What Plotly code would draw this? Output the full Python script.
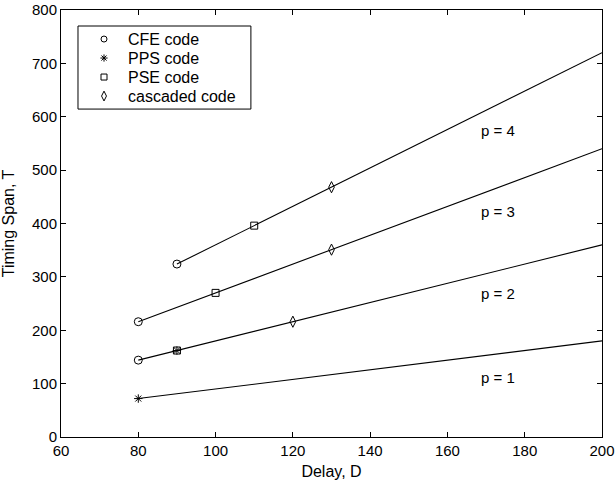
import plotly.graph_objects as go

# Lines: timing span vs delay for each p
p_values = [1, 2, 3, 4]
line_x = [[80, 200], [80, 200], [80, 200], [90, 200]]
line_y = [[72, 180], [144, 360], [216, 540], [324, 720]]

# Marker points
cfe_x = [80, 80, 90]
cfe_y = [144, 216, 324]
pps_x = [80, 90]
pps_y = [72, 162]
pse_x = [90, 100, 110]
pse_y = [162, 270, 396]
cas_x = [120, 130, 130]
cas_y = [216, 351, 468]

label_x = [173, 173, 173, 173]
label_y = [112, 268, 423, 575]

legend_names = ["CFE code", "PPS code", "PSE code", "cascaded code"]
legend_symbols = ["circle-open", "asterisk-open", "square-open", "diamond-tall-open"]
legend_sizes = [6, 6, 6, 7]

fig = go.Figure()
for xs, ys in zip(line_x, line_y):
    fig.add_trace(go.Scatter(x=xs, y=ys, mode="lines", line=dict(color="black", width=1.1),
                             showlegend=False, hoverinfo="skip"))

def add_markers(x, y, name, symbol, size):
    fig.add_trace(go.Scatter(x=x, y=y, mode="markers", name=name, showlegend=False,
                             marker=dict(symbol=symbol, size=size, color="black",
                                         line=dict(color="black", width=1))))

add_markers(cfe_x, cfe_y, legend_names[0], "circle-open", 8)
add_markers(pps_x, pps_y, legend_names[1], "asterisk-open", 7)
add_markers(pse_x, pse_y, legend_names[2], "square-open", 7)
add_markers(cas_x, cas_y, legend_names[3], "diamond-tall-open", 8)

for lx, ly, p in zip(label_x, label_y, p_values):
    fig.add_annotation(x=lx, y=ly, text=f"p = {p}", showarrow=False,
                       font=dict(size=15, color="black"))

# Custom legend box (MATLAB-style compact legend)
box_x0, box_x1, box_y0, box_y1 = 0.0314, 0.351, 0.768, 0.9625
row_top, row_step = 0.932, 0.0445
key_x, text_x = 0.0795, 0.12
fig.add_shape(type="rect", xref="paper", yref="paper", x0=box_x0, x1=box_x1,
              y0=box_y0, y1=box_y1, line=dict(color="black", width=1), fillcolor="white",
              layer="below")
rows_y = [row_top - i * row_step for i in range(len(legend_names))]
for name, sym, sz, ry in zip(legend_names, legend_symbols, legend_sizes, rows_y):
    fig.add_trace(go.Scatter(x=[key_x], y=[ry], xaxis="x2", yaxis="y2", mode="markers",
                             showlegend=False, hoverinfo="skip",
                             marker=dict(symbol=sym, size=sz, color="black",
                                         line=dict(color="black", width=1))))
    fig.add_annotation(xref="paper", yref="paper", x=text_x, y=ry, text=name,
                       showarrow=False, xanchor="left", yanchor="middle",
                       font=dict(size=16, color="black"))

axis_common = dict(showline=True, linecolor="black", linewidth=1, mirror="ticks",
                   ticks="inside", ticklen=5, tickcolor="black", showgrid=False,
                   zeroline=False, tickfont=dict(size=15, color="black"), automargin=False,
                   ticklabeloverflow="allow")

fig.update_layout(
    width=616, height=480,
    margin=dict(l=61, r=14, t=10, b=43),
    paper_bgcolor="white", plot_bgcolor="white",
    font=dict(family="Liberation Sans, Arial, sans-serif", size=15, color="black"),
    xaxis=dict(range=[60, 200], dtick=20, title=dict(text="Delay, D", font=dict(size=16)), **axis_common),
    yaxis=dict(range=[0, 800], dtick=100, title=dict(text="Timing Span, T", font=dict(size=16)), **axis_common),
    xaxis2=dict(range=[0, 1], overlaying="x", visible=False, fixedrange=True),
    yaxis2=dict(range=[0, 1], overlaying="y", visible=False, fixedrange=True),
    showlegend=False,
)

fig.write_html("out.html", config={"displayModeBar": False},
               post_script="document.body.style.margin='0';document.body.style.overflow='hidden';")
